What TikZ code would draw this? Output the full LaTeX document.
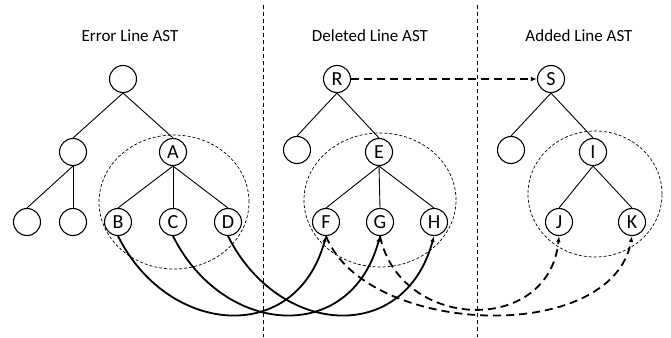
\documentclass[tikz,border=0pt]{standalone}
\usepackage{fontspec}
\setmainfont{Carlito}
\usetikzlibrary{arrows.meta}

\begin{document}
\begin{tikzpicture}[x=1pt,y=-1pt,
  ast/.style={circle,draw,line width=1.1pt,minimum size=27pt,inner sep=0pt,font=\fontsize{20}{22}\selectfont},
  edge/.style={line width=0.9pt},
  group/.style={dash pattern=on 3pt off 2pt,line width=0.7pt},
  split/.style={dash pattern=on 4pt off 3pt,line width=0.9pt},
  title/.style={font=\fontsize{17}{20}\selectfont},
  match/.style={line width=1.8pt,-{Latex[length=6pt,width=4.5pt]}},
  rewrite/.style={line width=1.8pt,dash pattern=on 8pt off 5pt,-{Latex[length=6pt,width=4.5pt]}}]
\useasboundingbox (0,0) rectangle (671,337);
\draw[split] (263,5) -- (263,337);
\draw[split] (477,5) -- (477,337);
\node (t1) at (130,36) [title]{Error Line AST};
\node (t2) at (370,36) [title]{Deleted Line AST};
\node (t3) at (579,36) [title]{Added Line AST};
% error line tree
\draw[group] (174,202) ellipse (75pt and 67pt);
\node (e0) at (123,79) [ast]{};
\node (e1) at (73,152) [ast]{};
\node (A) at (173,152) [ast]{A};
\node (e3) at (27,222) [ast]{};
\node (e4) at (73,222) [ast]{};
\node (B) at (118,222) [ast]{B};
\node (C) at (173,222) [ast]{C};
\node (D) at (228,222) [ast]{D};
\draw[edge] (e0.south) -- (e1.north);
\draw[edge] (e0.south) -- (A.north);
\draw[edge] (e1.south) -- (e3.north);
\draw[edge] (e1.south) -- (e4.north);
\draw[edge] (A.south) -- (B.north);
\draw[edge] (A.south) -- (C.north);
\draw[edge] (A.south) -- (D.north);
% deleted line tree
\draw[group] (380,200) ellipse (76pt and 67pt);
\node (R) at (337,79) [ast]{R};
\node (d1) at (297,150) [ast]{};
\node (E) at (379,152) [ast]{E};
\node (F) at (326,222) [ast]{F};
\node (G) at (380,222) [ast]{G};
\node (H) at (434,222) [ast]{H};
\draw[edge] (R.south) -- (d1.north);
\draw[edge] (R.south) -- (E.north);
\draw[edge] (E.south) -- (F.north);
\draw[edge] (E.south) -- (G.north);
\draw[edge] (E.south) -- (H.north);
% added line tree
\draw[group] (595,194) ellipse (67pt and 63pt);
\node (S) at (551,79) [ast]{S};
\node (a1) at (511,150) [ast]{};
\node (I) at (593,152) [ast]{I};
\node (J) at (559,222) [ast]{J};
\node (K) at (632,222) [ast]{K};
\draw[edge] (S.south) -- (a1.north);
\draw[edge] (S.south) -- (I.north);
\draw[edge] (I.south) -- (J.north);
\draw[edge] (I.south) -- (K.north);
% mappings
\draw[rewrite] (R.east) -- (S.west);
\draw[match] (B.south) .. controls +(50,100) and +(-30,110) .. (F.south);
\draw[match] (C.south) .. controls +(50,100) and +(-30,110) .. (G.south);
\draw[match] (D.south) .. controls +(50,100) and +(-30,110) .. (H.south);
\draw[rewrite] (G.south) .. controls +(20,95) and +(-10,100) .. (J.south);
\draw[rewrite] (F.south) .. controls +(40,100) and +(-20,110) .. (K.south);
\end{tikzpicture}
\end{document}
